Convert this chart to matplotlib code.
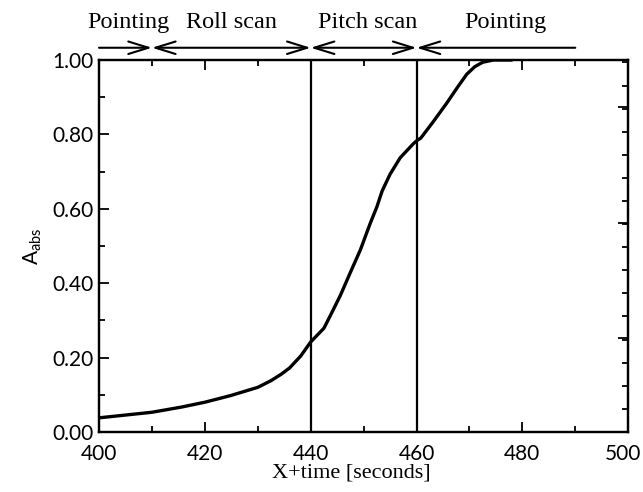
import numpy as np
import matplotlib
matplotlib.use("Agg")
import matplotlib.pyplot as plt
from matplotlib.ticker import MultipleLocator, FixedLocator, FuncFormatter

# absorbed fraction vs. time
temps = [400, 410, 415.6, 420, 424.9, 430, 432.5, 434.4, 436, 438.1, 440,
         442.5, 443.75, 445.6, 447.5, 449.4, 451.25, 452.5, 453.5, 455,
         456.9, 459.4, 460.2, 460.8, 463.2, 465.7, 467.8, 469.5, 471.0, 472.5,
         474.5, 478]
a_abs = [0.038, 0.053, 0.067, 0.080, 0.098, 0.120, 0.138, 0.155, 0.172, 0.204, 0.242,
         0.279, 0.314, 0.367, 0.429, 0.490, 0.561, 0.605, 0.648, 0.693,
         0.737, 0.775, 0.785, 0.790, 0.835, 0.884, 0.928, 0.962, 0.982, 0.994,
         1.0, 1.0]

# phases de la manoeuvre
phases = ["Pointing", "Roll scan", "Pitch scan", "Pointing"]
bornes = [400, 410, 440, 460, 490]

serif = ["Liberation Serif", "DejaVu Serif"]
sans = ["Lato", "DejaVu Sans"]

fig = plt.figure(figsize=(6.43, 4.92), dpi=100)
ax = fig.add_axes([0.154, 0.122, 0.823, 0.756])

ax.plot(temps, a_abs, color="black", lw=2.4, solid_capstyle="round",
        solid_joinstyle="round")
for xv in bornes[2:4]:
    ax.axvline(xv, color="black", lw=1.6)

ax.set_xlim(400, 500)
ax.set_ylim(0, 1)
ax.xaxis.set_major_locator(MultipleLocator(20))
ax.xaxis.set_minor_locator(MultipleLocator(10))
ax.yaxis.set_major_locator(MultipleLocator(0.2))
ax.yaxis.set_minor_locator(MultipleLocator(0.1))
# le label 500 est pose a part, un peu a gauche, pour rester dans l'image
ax.xaxis.set_major_formatter(FuncFormatter(lambda v, p: "" if v >= 500 else f"{v:.0f}"))
ax.yaxis.set_major_formatter(FuncFormatter(lambda v, p: f"{v:.2f}"))
ax.tick_params(which="both", direction="in", top=True, right=False, width=1.3)
ax.tick_params(which="major", length=7, labelsize=15)
ax.tick_params(which="minor", length=4)
ax.tick_params(axis="x", which="major", pad=9)
ax.tick_params(axis="y", which="major", pad=4)
for lab in ax.get_xticklabels() + ax.get_yticklabels():
    lab.set_family(sans)
ax.annotate("500", xy=(500, 0), xytext=(-4, -9), textcoords="offset points",
            ha="center", va="top", family=sans, fontsize=15, annotation_clip=False)

# petite graduation du cote droit
ax2 = ax.twinx()
ax2.set_ylim(0, 1)
ax2.yaxis.set_major_locator(FixedLocator([0.253, 0.563, 0.874]))
ax2.yaxis.set_minor_locator(MultipleLocator(0.0621))
ax2.tick_params(which="both", direction="in", labelright=False, width=1.3)
ax2.tick_params(which="major", length=7)
ax2.tick_params(which="minor", length=4)

for s in list(ax.spines.values()) + list(ax2.spines.values()):
    s.set_linewidth(1.6)

ax.set_xlabel("X+time [seconds]", family=serif, fontsize=16, labelpad=0)
ax.xaxis.set_label_coords(0.476, -0.085)
ax.set_ylabel(r"A$_{\mathregular{abs}}$", family=sans, fontsize=15, labelpad=6)

# fleches des phases au-dessus du cadre
y_fl = 1.033
y_txt = 1.10
tete = "head_length=1.45,head_width=0.45"
ax.annotate("", xy=(bornes[1], y_fl), xytext=(bornes[0], y_fl),
            annotation_clip=False,
            arrowprops=dict(arrowstyle="->," + tete, lw=1.5, color="black",
                            shrinkA=0, shrinkB=0))
for i in (1, 2):
    ax.annotate("", xy=(bornes[i + 1], y_fl), xytext=(bornes[i], y_fl),
                annotation_clip=False,
                arrowprops=dict(arrowstyle="<->," + tete, lw=1.5,
                                color="black", shrinkA=0, shrinkB=0))
ax.annotate("", xy=(bornes[4], y_fl), xytext=(bornes[3], y_fl),
            annotation_clip=False,
            arrowprops=dict(arrowstyle="<-," + tete, lw=1.5, color="black",
                            shrinkA=0, shrinkB=0))

pos_txt = [405.5, 425, 450.8, 476.8]
for nom, xp in zip(phases, pos_txt):
    ax.text(xp, y_txt, nom, ha="center", va="center", family=serif, fontsize=17.5,
            clip_on=False)

fig.savefig("out.png", dpi=100)
